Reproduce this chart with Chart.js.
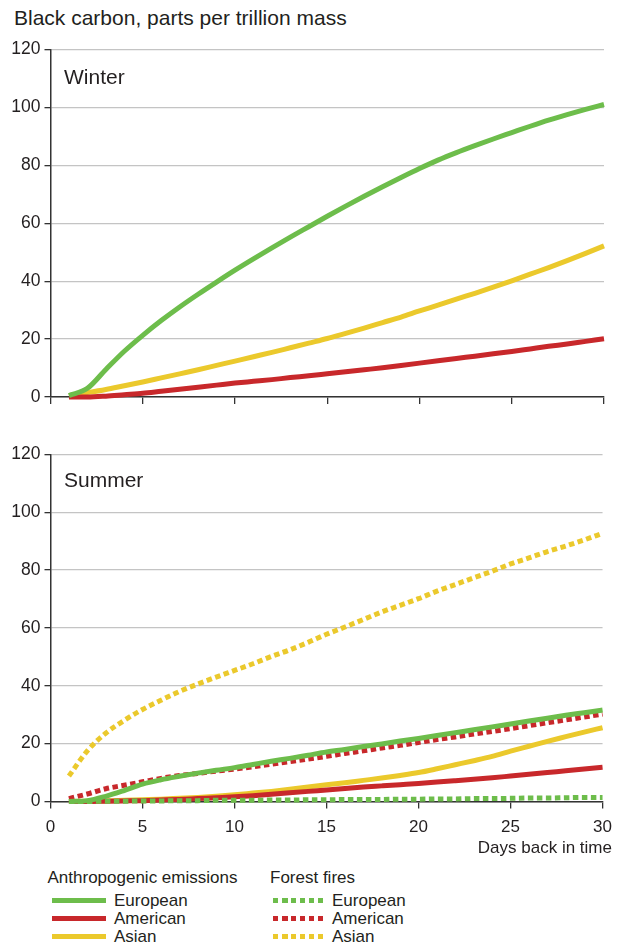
<!DOCTYPE html>
<html>
<head>
<meta charset="utf-8">
<script src="https://cdn.jsdelivr.net/npm/chart.js@4.4.1/dist/chart.umd.min.js"></script>
<style>
  html, body { margin: 0; padding: 0; background: #fff; }
  body { width: 621px; height: 947px; position: relative; overflow: hidden;
         font-family: "Liberation Sans", Arial, sans-serif; color: #231f20; }
  .t { position: absolute; white-space: nowrap; line-height: 1; }
  .cw { position: absolute; left: 0; width: 621px; }
  .sw { position: absolute; height: 5px; }
</style>
</head>
<body>
<div class="t" style="left:14px; top:7px; font-size:21px;">Black carbon, parts per trillion mass</div>
<div class="cw" style="top:0; height:420px;"><canvas id="c1"></canvas></div>
<div class="cw" style="top:420px; height:440px;"><canvas id="c2"></canvas></div>
<div class="t" style="left:64px; top:66px; font-size:21px;">Winter</div>
<div class="t" style="left:64px; top:468.6px; font-size:21px;">Summer</div>
<div class="t" style="right:9px; top:839px; font-size:17px;">Days back in time</div>
<div id="legend"></div>

<script>
// ---- data ----
const days = [1,2,3,4,5,6,7,8,9,10,11,12,13,14,15,16,17,18,19,20,21,22,23,24,25,26,27,28,29,30];
const xTicks = [0,5,10,15,20,25,30];
const yTicks = [0,20,40,60,80,100,120];

// Winter, anthropogenic emissions
const winterEuropean = [0.5,3,9.5,15.8,21.3,26.4,31.1,35.5,39.7,43.8,47.7,51.5,55.2,58.8,62.4,65.9,69.3,72.6,75.8,78.9,81.8,84.4,86.8,89.1,91.3,93.5,95.6,97.5,99.3,101];
const winterAmerican = [0,0,0.3,0.8,1.3,2,2.7,3.4,4.1,4.8,5.4,6,6.7,7.3,8,8.7,9.4,10.1,10.9,11.7,12.5,13.3,14.1,14.9,15.7,16.6,17.5,18.3,19.2,20.1];
const winterAsian = [0.5,1.5,2.6,3.9,5.2,6.6,8,9.4,10.9,12.4,13.9,15.4,17,18.6,20.2,22,23.8,25.7,27.6,29.7,31.7,33.8,35.8,37.9,40.1,42.4,44.7,47.1,49.6,52.2];

// Summer, anthropogenic emissions
const summerEuropean = [0,0.3,1.8,3.8,6,7.5,8.7,9.8,10.8,11.7,12.8,13.9,14.9,16,17.1,18,19,19.9,20.9,21.8,22.8,23.8,24.8,25.8,26.8,27.8,28.8,29.8,30.7,31.6];
const summerAmerican = [0,0,0.1,0.2,0.3,0.5,0.7,1,1.3,1.6,2,2.5,3,3.5,4,4.5,5,5.4,5.8,6.2,6.7,7.2,7.7,8.2,8.8,9.4,10,10.6,11.2,11.8];
const summerAsian = [0,0.1,0.2,0.4,0.6,0.8,1.1,1.4,1.8,2.3,2.9,3.5,4.2,5,5.8,6.5,7.3,8.1,9,10,11.3,12.7,14.1,15.6,17.4,19.1,20.8,22.4,24,25.5];

// Summer, forest fires
const fireEuropean = [0,0,0.1,0.1,0.2,0.2,0.3,0.3,0.4,0.4,0.4,0.5,0.5,0.6,0.6,0.7,0.7,0.7,0.8,0.8,0.9,0.9,1,1,1.1,1.2,1.2,1.3,1.4,1.4];
const fireAmerican = [1,2.6,4.4,5.6,6.8,8,9,9.7,10.5,11.2,12,12.9,13.8,14.7,15.6,16.6,17.5,18.5,19.4,20.4,21.4,22.3,23.3,24.2,25.2,26.2,27.2,28.2,29.2,30.2];
const fireAsian = [8.8,17.5,23.6,28,31.8,35,38,40.6,43,45.3,47.6,50.1,52.4,55,57.8,60.3,62.9,65.5,67.8,70.1,72.7,75,77.3,79.6,82.1,84.2,86.4,88.3,90.4,92.7];

const legendHeaders = ["Anthropogenic emissions", "Forest fires"];
const legendNames = ["European", "American", "Asian"];

// ---- styles ----
const GREEN = "#6dbd4b", RED = "#c8282b", YELLOW = "#ebc92c";
const COLORS = [GREEN, RED, YELLOW];
const DASH = [5.5, 3.5];
const AXIS = "#333333", GRID = "#c4c4c4", TEXT = "#231f20";
const FONT = "'Liberation Sans', Arial, sans-serif";

function pts(vals) { return days.map((d, i) => ({x: d, y: vals[i]})); }
function ds(label, vals, color, dashed, order) {
  return {
    label, data: pts(vals), borderColor: color, backgroundColor: color,
    borderWidth: 5, borderDash: dashed ? DASH : [], borderCapStyle: 'butt',
    pointRadius: 0, tension: 0, cubicInterpolationMode: 'monotone',
    fill: false, clip: false, order
  };
}

function makeOptions(showXLabels, padTop, xHeight) {
  return {
    responsive: true, maintainAspectRatio: false, animation: false,
    events: [],
    layout: { padding: { top: padTop, right: 17, left: 0, bottom: 0 } },
    plugins: { legend: { display: false }, tooltip: { enabled: false } },
    scales: {
      x: {
        type: 'linear', min: 0, max: 30,
        afterBuildTicks: (s) => { s.ticks = xTicks.map(v => ({value: v})); },
        afterFit: (s) => { s.height = xHeight; },
        grid: { drawOnChartArea: false, drawTicks: true, tickLength: 7, color: AXIS, lineWidth: 1.3 },
        border: { display: true, color: AXIS, width: 1.5 },
        ticks: { display: showXLabels, padding: 9, color: TEXT, font: { family: FONT, size: 17 }, maxRotation: 0 }
      },
      y: {
        type: 'linear', min: 0, max: 120,
        afterBuildTicks: (s) => { s.ticks = yTicks.map(v => ({value: v})); },
        afterFit: (s) => { s.width = 50.5; },
        grid: { color: GRID, lineWidth: 1.3, drawTicks: true, tickLength: 6, tickColor: AXIS },
        border: { display: true, color: AXIS, width: 1.5 },
        ticks: { padding: 4, color: TEXT, font: { family: FONT, size: 17.5 } }
      }
    }
  };
}

Chart.defaults.font.family = FONT;

new Chart(document.getElementById('c1'), {
  type: 'line',
  data: { datasets: [
    ds('European', winterEuropean, GREEN, false, 1),
    ds('American', winterAmerican, RED, false, 2),
    ds('Asian', winterAsian, YELLOW, false, 3)
  ]},
  options: makeOptions(false, 49.5, 23)
});

new Chart(document.getElementById('c2'), {
  type: 'line',
  data: { datasets: [
    ds('Forest fires European', fireEuropean, GREEN, true, 0),
    ds('European', summerEuropean, GREEN, false, 1),
    ds('American', summerAmerican, RED, false, 2),
    ds('Asian', summerAsian, YELLOW, false, 3),
    ds('Forest fires American', fireAmerican, RED, true, 4),
    ds('Forest fires Asian', fireAsian, YELLOW, true, 5)
  ]},
  options: makeOptions(true, 34.3, 58.5)
});

// ---- legend (HTML) ----
const leg = document.getElementById('legend');
const colX = [{head: 47.5, sw: 51.5, swW: 54.5, lab: 114}, {head: 270, sw: 272.5, swW: 52, lab: 332}];
const rowY = [900.7, 918.3, 936];
legendHeaders.forEach((h, c) => {
  const d = document.createElement('div');
  d.className = 't'; d.style.left = colX[c].head + 'px'; d.style.top = (877 - 8.5) + 'px';
  d.style.fontSize = '17px'; d.textContent = h; leg.appendChild(d);
  legendNames.forEach((n, r) => {
    const s = document.createElement('div');
    s.className = 'sw';
    s.style.left = colX[c].sw + 'px'; s.style.width = colX[c].swW + 'px';
    s.style.top = (rowY[r] - 2.5) + 'px';
    if (c === 0) s.style.background = COLORS[r];
    else s.style.background = `repeating-linear-gradient(to right, ${COLORS[r]} 0 5.5px, transparent 5.5px 9px)`;
    leg.appendChild(s);
    const l = document.createElement('div');
    l.className = 't'; l.style.left = colX[c].lab + 'px'; l.style.top = (rowY[r] - 8.5) + 'px';
    l.style.fontSize = '17px'; l.textContent = n; leg.appendChild(l);
  });
});
</script>
</body>
</html>
